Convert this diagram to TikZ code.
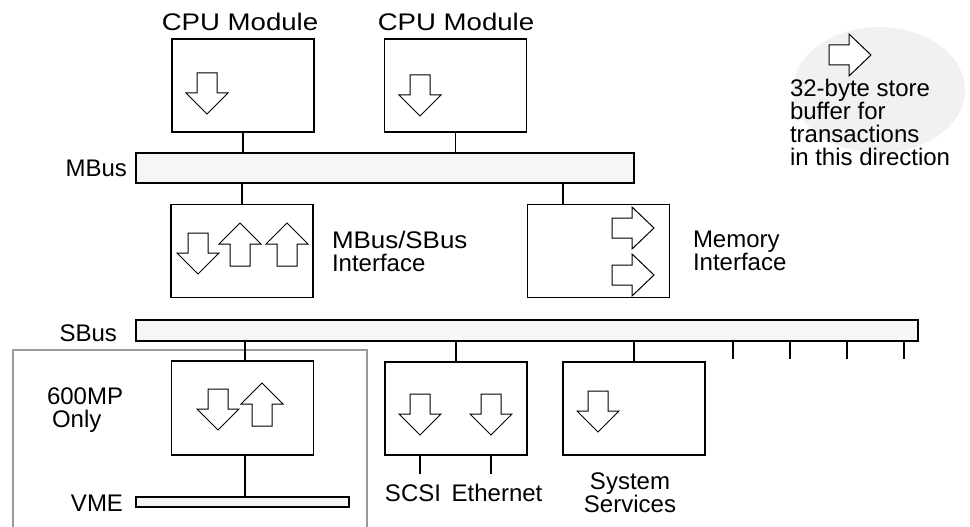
\documentclass[tikz,border=0pt]{standalone}
\usepackage{fontspec}
\usepackage{graphicx}
\setmainfont{Liberation Sans}
\usetikzlibrary{shapes.geometric}
\definecolor{busgray}{HTML}{F6F6F6}
\definecolor{legendgray}{HTML}{F1F1F1}
\definecolor{framegray}{HTML}{9A9A9A}
\begin{document}
\begin{tikzpicture}[x=1pt,y=-1pt,
  every node/.style={font=\fontsize{24}{23}\selectfont, inner sep=0pt, outer sep=0pt},
  unit/.style={draw, line width=1.6pt, minimum width=142pt, minimum height=93pt},
  bus/.style={draw, line width=1.6pt, fill=busgray},
  wire/.style={line width=1.6pt},
  blk/.style={draw, line width=1pt, fill=white, line join=miter},
  lbl/.style={anchor=north west, align=left},
  downblk/.pic={\path[blk] (-10,0) -- (10,0) -- (10,20) -- (21,20) -- (0,41) -- (-21,20) -- (-10,20) -- cycle;},
  upblk/.pic={\path[blk] (0,0) -- (21,21) -- (10,21) -- (10,43) -- (-10,43) -- (-10,21) -- (-21,21) -- cycle;},
  rightblk/.pic={\path[blk] (0,-10) -- (20,-10) -- (20,-21) -- (42,0) -- (20,21) -- (20,10) -- (0,10) -- cycle;}
]
\useasboundingbox (0,0) rectangle (970,527);

% legend
\node[ellipse, fill=legendgray, minimum width=172pt, minimum height=126pt] (legend) at (879,90) {};
\pic at (829,55) {rightblk};
\node[lbl] (legendtxt) at (790,79) {32-byte store\\buffer for\\transactions\\in this direction};

% buses
\node[bus, minimum width=498pt, minimum height=30pt] (mbus) at (385,168) {};
\node[bus, minimum width=782pt, minimum height=21pt] (sbus) at (527,330.5) {};
\node[bus, minimum width=213pt, minimum height=10pt] (vme) at (242.5,502) {};
\node[anchor=base east] (mbuslbl) at (127,176) {MBus};
\node[anchor=base east] (sbuslbl) at (117,341.5) {SBus};
\node[anchor=base east] (vmelbl) at (123,511.5) {VME};

% 600MP-only region
\draw[framegray, line width=1.3pt] (13,527) -- (13,350) -- (367,350) -- (367,527);
\node[lbl] (mplbl) at (47,388) {600MP\\\hspace{5pt}Only};

% CPU modules
\node[unit] (cpu1) at (243,85.5) {};
\node[unit] (cpu2) at (455.5,85.5) {};
\node[anchor=base] (cpu1lbl) at (240,30.5) {\scalebox{1.15}[1]{CPU Module}};
\node[anchor=base] (cpu2lbl) at (456,30.5) {\scalebox{1.15}[1]{CPU Module}};
\pic at (207,73) {downblk};
\pic at (420,75) {downblk};

% interfaces
\node[unit] (mbsb) at (242,251) {};
\node[unit] (mem) at (598.5,251) {};
\node[lbl] (mbsblbl) at (332,231) {\scalebox{1.08}[1]{MBus/SBus}\\Interface};
\node[lbl] (memlbl) at (693,231) {Memory\\Interface};
\pic at (198,233) {downblk};
\pic at (240,223) {upblk};
\pic at (287,223) {upblk};
\pic at (612,228) {rightblk};
\pic at (612,275) {rightblk};

% SBus devices
\node[unit, minimum height=94pt] (vmeif) at (242.5,408) {};
\node[unit] (scsi) at (456,408.5) {};
\node[unit] (sysv) at (634,408.5) {};
\pic at (218,389) {downblk};
\pic at (262,383) {upblk};
\pic at (420,394) {downblk};
\pic at (491,394) {downblk};
\pic at (598,391) {downblk};
\node[anchor=base] (scsilbl) at (413,501.5) {SCSI};
\node[anchor=base] (ethlbl) at (497,501.5) {Ethernet};
\node[anchor=north, align=center] (syslbl) at (630,473) {System\\Services};

% tap points
\coordinate (memtap) at (563,0);
\coordinate (vtap) at (245,0);
\coordinate (scsitap) at (420,0);
\coordinate (ethtap) at (491,0);
\coordinate (scsiend) at (420,474);
\coordinate (ethend) at (491,474);
\coordinate (slot1) at (733,359);
\coordinate (slot2) at (790,359);
\coordinate (slot3) at (847,359);
\coordinate (slot4) at (904,359);

% connectors
\draw[wire] (cpu1.south) -- (cpu1.south |- mbus.north);
\draw[wire] (cpu2.south) -- (cpu2.south |- mbus.north);
\draw[wire] (mbsb.north |- mbus.south) -- (mbsb.north);
\draw[wire] (memtap |- mbus.south) -- (memtap |- mem.north);
\draw[wire] (vtap |- sbus.south) -- (vtap |- vmeif.north);
\draw[wire] (vtap |- vmeif.south) -- (vtap |- vme.north);
\draw[wire] (scsi.north |- sbus.south) -- (scsi.north);
\draw[wire] (sysv.north |- sbus.south) -- (sysv.north);
\draw[wire] (scsitap |- scsi.south) -- (scsiend);
\draw[wire] (ethtap |- scsi.south) -- (ethend);
\foreach \s in {slot1,slot2,slot3,slot4}
  \draw[wire] (\s |- sbus.south) -- (\s);
\end{tikzpicture}
\end{document}
